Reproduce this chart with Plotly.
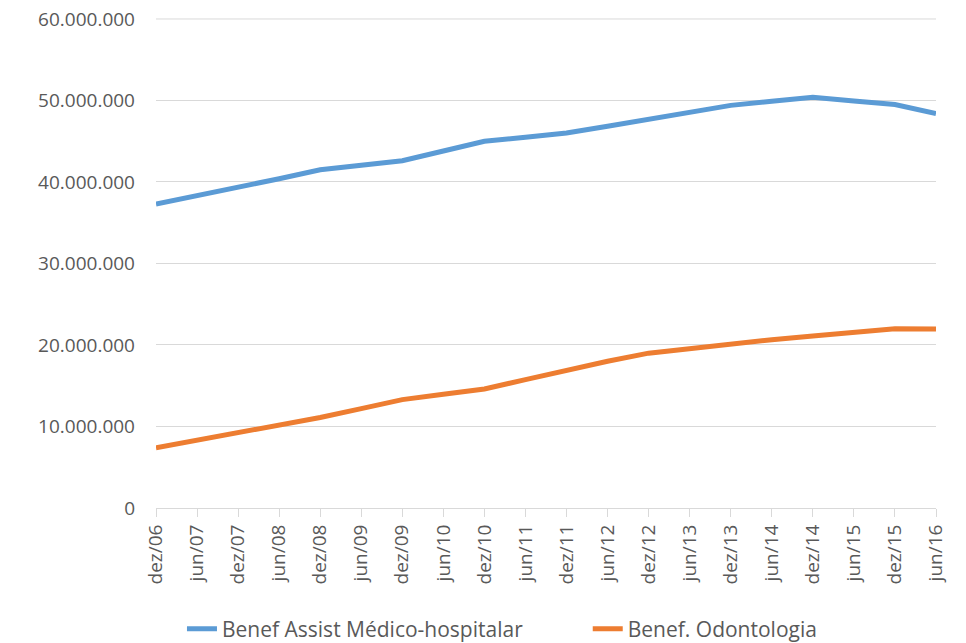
import plotly.graph_objects as go

categories = ["dez/06", "jun/07", "dez/07", "jun/08", "dez/08", "jun/09", "dez/09", "jun/10",
              "dez/10", "jun/11", "dez/11", "jun/12", "dez/12", "jun/13", "dez/13", "jun/14",
              "dez/14", "jun/15", "dez/15", "jun/16"]

medico = [37.3, 38.3, 39.4, 40.4, 41.5, 42.1, 42.6, 43.8, 45.0, 45.5, 46.0, 46.85,
          47.7, 48.55, 49.4, 49.9, 50.4, 49.95, 49.5, 48.4]
odonto = [7.4, 8.3, 9.2, 10.15, 11.1, 12.2, 13.3, 13.95, 14.6, 15.75, 16.9, 18.0,
          19.0, 19.6, 20.2, 20.65, 21.1, 21.55, 22.0, 21.95]

medico_vals = [v * 1e6 for v in medico]
odonto_vals = [v * 1e6 for v in odonto]

y_ticks = [0, 10e6, 20e6, 30e6, 40e6, 50e6, 60e6]
y_labels = ["0", "10.000.000", "20.000.000", "30.000.000", "40.000.000", "50.000.000", "60.000.000"]

series_names = ["Benef Assist Médico-hospitalar", "Benef. Odontologia"]

FONT = "Open Sans"
TXT = "#595959"
GRID = "#D9D9D9"
PAD = "\u00a0" * 11

fig = go.Figure()
fig.add_trace(go.Scatter(x=categories, y=medico_vals, mode="lines",
                         name=series_names[0] + PAD,
                         line=dict(color="#5B9BD5", width=5)))
fig.add_trace(go.Scatter(x=categories, y=odonto_vals, mode="lines",
                         name=series_names[1],
                         line=dict(color="#ED7D31", width=5)))

# top gridline (plotly skips the grid line at the very edge of the plot area)
fig.add_shape(type="line", xref="paper", x0=0, x1=1, yref="y",
              y0=y_ticks[-1], y1=y_ticks[-1], layer="below",
              line=dict(color=GRID, width=1))

fig.update_layout(
    width=958, height=635,
    margin=dict(l=148, r=30, t=10, b=135, autoexpand=False),
    paper_bgcolor="white", plot_bgcolor="white",
    font=dict(family=FONT, color=TXT, size=17),
    showlegend=True,
    legend=dict(orientation="h", xref="container", x=0.1816, xanchor="left",
                yref="container", y=0.022, yanchor="middle",
                font=dict(family=FONT, size=21, color=TXT)),
    hovermode=False,
)
fig.update_xaxes(type="category", range=[0, 19], showgrid=False, automargin=False,
                 showline=True, linecolor=GRID, linewidth=1,
                 ticks="outside", ticklen=8, tickcolor=GRID,
                 tickangle=-90, tickfont=dict(family=FONT, size=19, color=TXT))
fig.update_yaxes(range=[0, 60.12e6], tickvals=y_ticks, ticktext=y_labels, automargin=False,
                 showgrid=True, gridcolor=GRID, gridwidth=1, ticklabeloverflow="allow",
                 zeroline=False, showline=False, ticks="", ticklabelstandoff=20,
                 tickfont=dict(family=FONT, size=19, color=TXT))

fig.write_html("out.html")
